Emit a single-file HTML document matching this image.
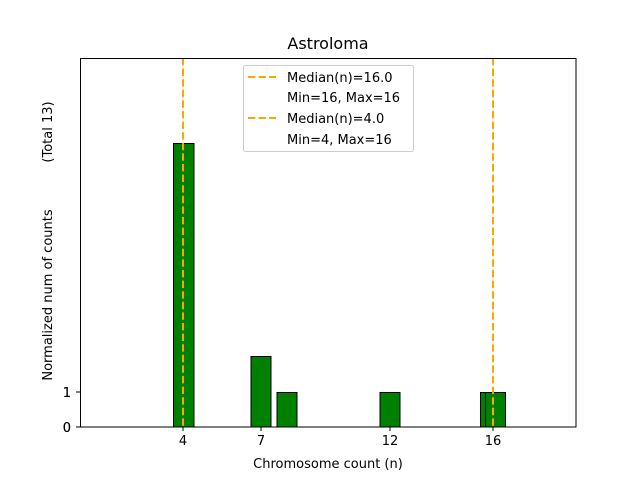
<html><head><style>body{margin:0;background:#fff}</style></head><body>
<svg width="640" height="480" xmlns="http://www.w3.org/2000/svg" font-family="DejaVu Sans, Liberation Sans, sans-serif">
<rect width="640" height="480" fill="#fff"/>
<g fill="#008000" stroke="#000" stroke-width="1">
<rect x="173.5" y="143.5" width="20.5" height="283.5"/>
<rect x="251" y="356.5" width="20" height="70.5"/>
<rect x="277" y="392.5" width="20" height="34.5"/>
<rect x="380" y="392.5" width="20" height="34.5"/>
<rect x="480.5" y="392.5" width="20" height="34.5"/>
<rect x="485.5" y="392.5" width="20" height="34.5"/>
</g>
<g stroke="#ffa500" stroke-width="2" stroke-dasharray="7.4,3.2">
<line x1="183" y1="58" x2="183" y2="427"/>
<line x1="493" y1="58" x2="493" y2="427"/>
</g>
<rect x="80.5" y="58.5" width="495.5" height="368.5" fill="none" stroke="#000" stroke-width="1"/>
<g stroke="#000">
<line x1="183" y1="427" x2="183" y2="431"/>
<line x1="261" y1="427" x2="261" y2="431"/>
<line x1="390" y1="427" x2="390" y2="431"/>
<line x1="493" y1="427" x2="493" y2="431"/>
<line x1="76" y1="427" x2="80" y2="427"/>
<line x1="76" y1="392" x2="80" y2="392"/>
</g>
<g font-size="13" fill="#000" text-anchor="middle">
<text x="183" y="445">4</text>
<text x="261" y="445">7</text>
<text x="390" y="445">12</text>
<text x="493" y="445">16</text>
<text x="328" y="468">Chromosome count (n)</text>
</g>
<g font-size="13" text-anchor="end">
<text x="71" y="432">0</text>
<text x="71" y="397">1</text>
<text x="71" y="432">0</text>
<text x="71" y="397">1</text>
</g>
<g font-size="13" text-anchor="middle">
<text transform="translate(52,295) rotate(-90)">Normalized num of counts</text>
<text transform="translate(52,132) rotate(-90)">(Total 13)</text>
</g>
<text x="328" y="49" font-size="16" text-anchor="middle">Astroloma</text>
<rect x="243.5" y="65.5" width="170" height="86" rx="2" fill="#fff" fill-opacity="0.8" stroke="#ccc"/>
<g stroke="#ffa500" stroke-width="2" stroke-dasharray="7.4,3.2">
<line x1="248" y1="77" x2="276" y2="77"/>
<line x1="248" y1="118" x2="276" y2="118"/>
</g>
<g font-size="13">
<text x="287" y="82">Median(n)=16.0</text>
<text x="287" y="102">Min=16, Max=16</text>
<text x="287" y="123">Median(n)=4.0</text>
<text x="287" y="144">Min=4, Max=16</text>
</g>
</svg>
</body></html>
